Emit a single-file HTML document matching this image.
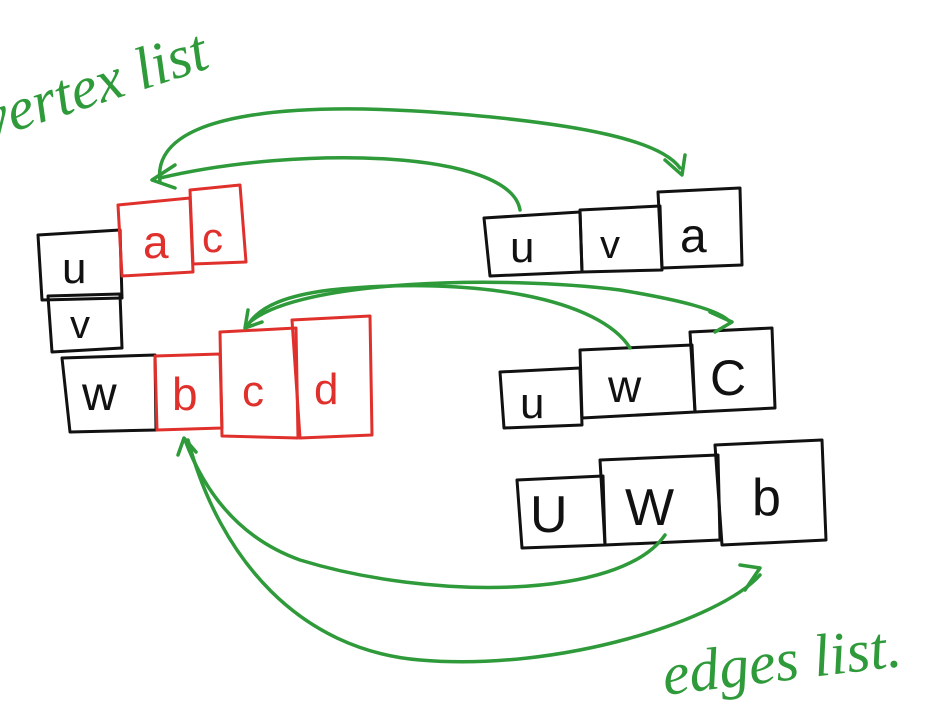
<!DOCTYPE html>
<html><head><meta charset="utf-8"><style>
html,body{margin:0;padding:0;background:#fff;width:926px;height:721px;overflow:hidden}
svg{display:block}
.k{fill:none;stroke:#111;stroke-width:3;stroke-linejoin:round}
.r{fill:none;stroke:#e0302c;stroke-width:3;stroke-linejoin:round}
.g{fill:none;stroke:#2e9a3a;stroke-width:3.5;stroke-linecap:round;stroke-linejoin:round}
.tk{font-family:"Liberation Sans",sans-serif;fill:#111}
.tr{font-family:"Liberation Sans",sans-serif;fill:#e0302c}
.tg{font-family:"Liberation Serif",serif;font-style:italic;fill:#2e9a3a}
</style></head><body>
<svg width="926" height="721" viewBox="0 0 926 721">
<!-- labels -->
<text class="tg" x="-12" y="140" font-size="60" transform="rotate(-18 -12 140)">vertex list</text>
<text class="tg" x="665" y="695" font-size="60" transform="rotate(-7 665 695)">edges list.</text>

<!-- left black boxes -->
<path class="k" d="M38,235 L120,230 L122,298 L42,300 Z"/>
<text class="tk" x="62" y="283" font-size="44">u</text>
<path class="k" d="M48,296 L120,294 L122,348 L52,352 Z"/>
<text class="tk" x="70" y="338" font-size="40">v</text>
<path class="k" d="M62,358 L155,355 L156,430 L70,432 Z"/>
<text class="tk" x="82" y="410" font-size="48">w</text>

<!-- left red boxes -->
<path class="r" d="M118,205 L190,198 L193,272 L122,276 Z"/>
<text class="tr" x="143" y="258" font-size="46">a</text>
<path class="r" d="M190,190 L240,185 L246,262 L193,264 Z"/>
<text class="tr" x="202" y="252" font-size="42">c</text>
<path class="r" d="M155,356 L220,354 L222,428 L157,430 Z"/>
<text class="tr" x="172" y="410" font-size="46">b</text>
<path class="r" d="M220,332 L296,328 L298,438 L222,436 Z"/>
<text class="tr" x="242" y="406" font-size="44">c</text>
<path class="r" d="M292,320 L370,316 L372,435 L300,438 Z"/>
<text class="tr" x="314" y="404" font-size="44">d</text>

<!-- right row 1 -->
<path class="k" d="M484,218 L580,212 L582,272 L490,276 Z"/>
<text class="tk" x="510" y="262" font-size="44">u</text>
<path class="k" d="M580,210 L660,206 L662,270 L582,272 Z"/>
<text class="tk" x="600" y="258" font-size="40">v</text>
<path class="k" d="M658,192 L740,188 L742,265 L662,268 Z"/>
<text class="tk" x="680" y="252" font-size="48">a</text>

<!-- right row 2 -->
<path class="k" d="M500,372 L580,368 L582,425 L504,428 Z"/>
<text class="tk" x="520" y="418" font-size="44">u</text>
<path class="k" d="M580,350 L692,345 L695,412 L582,418 Z"/>
<text class="tk" x="608" y="402" font-size="46">w</text>
<path class="k" d="M690,332 L772,328 L775,408 L695,412 Z"/>
<text class="tk" x="710" y="395" font-size="50">C</text>

<!-- right row 3 -->
<path class="k" d="M517,480 L603,476 L605,545 L522,548 Z"/>
<text class="tk" x="530" y="532" font-size="52">U</text>
<path class="k" d="M600,460 L718,455 L720,540 L605,545 Z"/>
<text class="tk" x="625" y="525" font-size="52">W</text>
<path class="k" d="M715,445 L822,440 L826,540 L722,545 Z"/>
<text class="tk" x="752" y="515" font-size="52">b</text>

<!-- green arrows -->
<path class="g" d="M520,210 C510,150 300,145 160,178"/>
<path class="g" d="M175,165 L152,180 L175,188"/>
<path class="g" d="M160,182 C150,110 300,100 470,115 C580,125 660,140 680,168"/>
<path class="g" d="M665,160 L682,175 L685,155"/>
<path class="g" d="M630,348 C600,300 480,275 330,290 C290,295 260,305 248,325"/>
<path class="g" d="M248,310 L245,328 L262,322"/>
<path class="g" d="M250,322 C300,280 500,275 620,290 C680,300 720,310 730,322"/>
<path class="g" d="M710,312 L732,322 L715,332"/>
<path class="g" d="M665,535 C620,600 430,600 300,560 C230,535 200,480 185,440"/>
<path class="g" d="M178,455 L184,438 L196,452"/>
<path class="g" d="M188,440 C220,560 300,650 420,660 C560,672 720,620 760,575"/>
<path class="g" d="M740,565 L760,568 L745,590"/>
</svg>
</body></html>
